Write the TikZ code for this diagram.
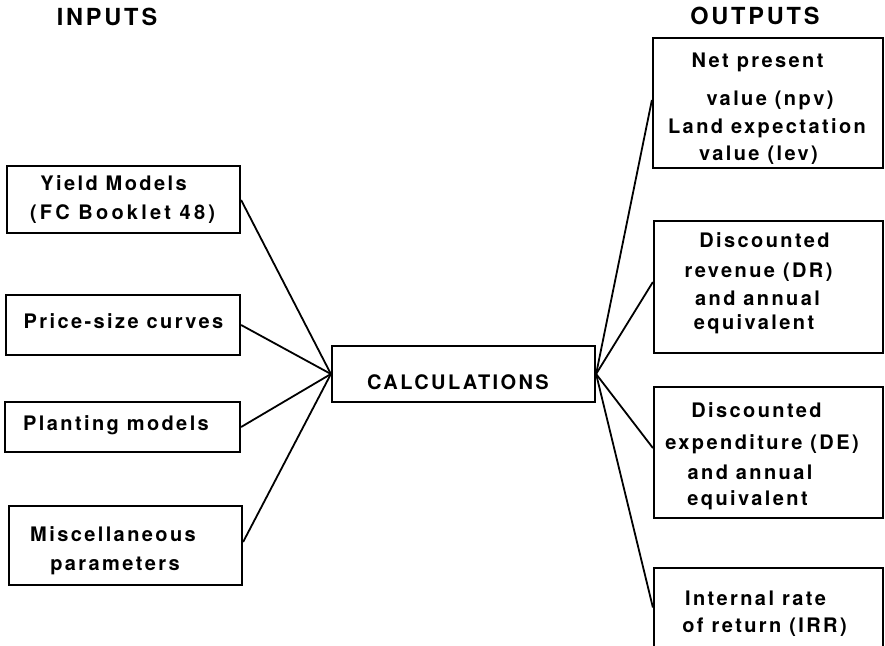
\documentclass[tikz,border=0pt]{standalone}
\usepackage{fontspec}
\setmainfont{TeX Gyre Heros}[LetterSpace=12]
\begin{document}
\begin{tikzpicture}[x=1pt,y=-1pt,
  box/.style={draw, line width=2.2pt, rectangle, inner sep=0pt},
  lab/.style={font=\fontsize{20}{29}\selectfont\bfseries, anchor=base, inner sep=0pt},
  head/.style={font=\fontsize{23.5}{28}\selectfont\bfseries, anchor=base, inner sep=0pt},
  conn/.style={line width=1.8pt}]
\path[use as bounding box, fill=white] (0,0) rectangle (885,645);
% headings
\node[head] (inputs) at (107,25.5) {INPUTS};
\node[head] (outputs) at (755,24.5) {OUTPUTS};
% input boxes
\node[box, minimum width=233pt, minimum height=67pt] (yield) at (123.5,199.5) {};
\node[box, minimum width=234pt, minimum height=60pt] (price) at (123,325) {};
\node[box, minimum width=235pt, minimum height=50pt] (plant) at (122.5,427) {};
\node[box, minimum width=233pt, minimum height=79pt] (misc) at (125.5,545.5) {};
% calc
\node[box, minimum width=263pt, minimum height=56pt] (calc) at (463.5,374) {};
% output boxes
\node[box, minimum width=230pt, minimum height=130pt] (npv) at (768,103) {};
\node[box, minimum width=229pt, minimum height=132pt] (dr) at (768.5,287) {};
\node[box, minimum width=229pt, minimum height=131pt] (de) at (768.5,452.5) {};
\node[box, minimum width=229pt, minimum height=79pt] (irr) at (768.5,607.5) {};
% texts
\node[lab] (yield1) at (113.5,190) {Yield Models};
\node[lab] (yield2) at (122.5,219) {\addfontfeatures{LetterSpace=16}(FC Booklet 48)};
\node[lab] (price1) at (123.5,328) {Price-size curves};
\node[lab] (plant1) at (116,430) {Planting models};
\node[lab] (misc1) at (113,541) {Miscellaneous};
\node[lab] (misc2) at (115,570) {parameters};
\node[lab] (calc1) at (458,389) {CALCULATIONS};
\node[lab] (npv1) at (757.5,67) {Net present};
\node[lab] (npv2) at (770,105) {value (npv)};
\node[lab] (npv3) at (767,133) {Land expectation};
\node[lab] (npv4) at (758.5,160) {value (lev)};
\node[lab] (dr1) at (764.5,247) {Discounted};
\node[lab] (dr2) at (758.5,277) {revenue (DR)};
\node[lab] (dr3) at (757.5,305) {and annual};
\node[lab] (dr4) at (754,329) {equivalent};
\node[lab] (de1) at (756.5,417) {Discounted};
\node[lab] (de2) at (762,449) {expenditure (DE)};
\node[lab] (de3) at (750,479) {and annual};
\node[lab] (de4) at (747.5,505) {equivalent};
\node[lab] (irr1) at (755.5,605) {Internal rate};
\node[lab] (irr2) at (764.5,632) {of return (IRR)};
% connectors
\draw[conn] ([yshift=-0.5pt]yield.east) -- (calc.west);
\draw[conn] (price.east) -- (calc.west);
\draw[conn] (plant.east) -- (calc.west);
\draw[conn] ([yshift=3.5pt]misc.east) -- (calc.west);
\draw[conn] (calc.east) -- ([yshift=3pt]npv.west);
\draw[conn] (calc.east) -- ([yshift=5pt]dr.west);
\draw[conn] (calc.east) -- ([yshift=4.5pt]de.west);
\draw[conn] (calc.east) -- (irr.west);
\end{tikzpicture}
\end{document}
